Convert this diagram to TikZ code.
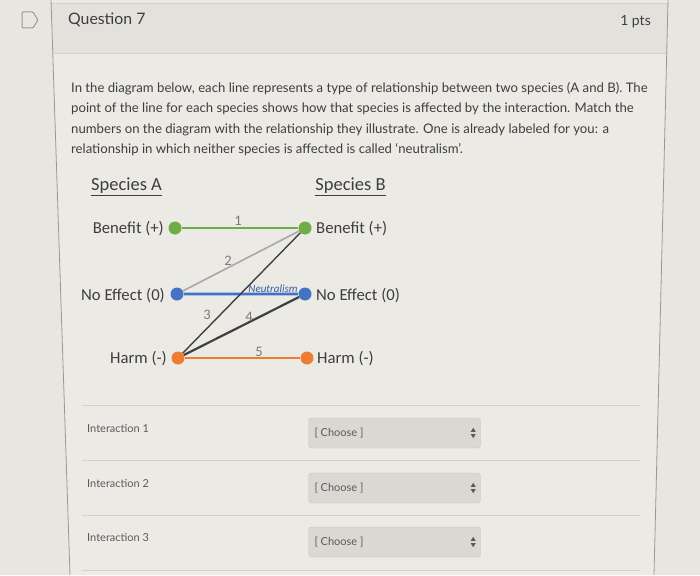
\documentclass[tikz,border=0pt]{standalone}
\usepackage{fontspec}
\setmainfont{Lato}
\newfontfamily\calibri{Carlito}
\definecolor{pagebg}{HTML}{E8E6E1}
\definecolor{cardbg}{HTML}{ECEAE5}
\definecolor{headbg}{HTML}{E3E1DC}
\definecolor{rulegrey}{HTML}{D2D0CB}
\definecolor{edgegrey}{HTML}{9A9893}
\definecolor{txtgrey}{HTML}{3E3E3E}
\definecolor{softgrey}{HTML}{5A5A5A}
\definecolor{numgrey}{HTML}{7A7A7A}
\definecolor{bengreen}{HTML}{70AD47}
\definecolor{neublue}{HTML}{4472C4}
\definecolor{harmorange}{HTML}{ED7D31}
\definecolor{linegrey}{HTML}{A8A8A8}
\definecolor{linedark}{HTML}{404040}
\definecolor{boxfill}{HTML}{DAD8D3}
\definecolor{boxedge}{HTML}{C6C4BF}
\begin{document}
\begin{tikzpicture}[x=1pt,y=-1pt,
    lbl/.style={font=\calibri\fontsize{16.7}{19}\selectfont, text=txtgrey, inner sep=0pt},
    dot/.style={circle, inner sep=0pt, minimum size=13pt},
    num/.style={font=\calibri\fontsize{14.5}{16}\selectfont, text=numgrey, inner sep=0pt},
    rowlbl/.style={font=\fontsize{11}{13}\selectfont, text=softgrey, inner sep=0pt, anchor=west},
    choosebox/.style={draw=boxedge, fill=boxfill, rounded corners=3pt, minimum width=172pt,
      minimum height=30pt, inner sep=0pt},
    choosetxt/.style={font=\fontsize{11}{13}\selectfont, text=softgrey, inner sep=0pt, anchor=west}]
  \useasboundingbox (0,0) rectangle (700,575);
  \fill[pagebg] (0,0) rectangle (700,575);
  % card and header
  \fill[cardbg] (51,0) -- (668,0) -- (654,575) -- (70,575) -- cycle;
  \fill[headbg] (51,3) -- (668,3) -- (667.5,54) -- (52.7,54) -- cycle;
  \draw[rulegrey, line width=0.8pt] (51,3) -- (668,3);
  \draw[rulegrey, line width=1pt] (52.7,54) -- (667.5,54);
  \draw[edgegrey, line width=0.8pt] (51,0) -- (70,575);
  \draw[edgegrey, line width=0.8pt] (668,0) -- (654,575);
  \draw[edgegrey, line width=1pt, rounded corners=1pt]
    (22,12) -- (33,12) -- (38,20) -- (33,28) -- (22,28) -- cycle;
  \node[anchor=west, inner sep=0pt, text=txtgrey, font=\fontsize{15.8}{19}\selectfont] (qtitle) at (68,20) {Question 7};
  \node[anchor=east, inner sep=0pt, text=txtgrey, font=\fontsize{14}{17}\selectfont] (qpts) at (651,22) {1 pts};
  % question text
  \node[anchor=north west, inner sep=0pt, align=left, text=txtgrey,
    font=\fontsize{13.15}{20.5}\selectfont] (intro) at (71,82)
    {In the diagram below, each line represents a type of relationship between two species (A and B). The\\
     point of the line for each species shows how that species is affected by the interaction. Match the\\
     numbers on the diagram with the relationship they illustrate. One is already labeled for you: a\\
     relationship in which neither species is affected is called `neutralism'.};
  % diagram
  \node[lbl, font=\calibri\fontsize{18.5}{21}\selectfont] (spa) at (126.5,187) {\underline{Species A}};
  \node[lbl, font=\calibri\fontsize{18.5}{21}\selectfont] (spb) at (350.5,187) {\underline{Species B}};
  \node[dot, fill=bengreen] (aben) at (175,228) {};
  \node[dot, fill=neublue] (aneu) at (177,294) {};
  \node[dot, fill=harmorange] (aharm) at (178,358) {};
  \node[dot, fill=bengreen] (bben) at (305,228) {};
  \node[dot, fill=neublue] (bneu) at (305,294) {};
  \node[dot, fill=harmorange] (bharm) at (307,358) {};
  \node[lbl, anchor=east] (labena) at (164,229) {Benefit (+)};
  \node[lbl, anchor=east] (laneua) at (165,296) {No Effect (0)};
  \node[lbl, anchor=east] (laharma) at (167,359) {Harm (-)};
  \node[lbl, anchor=west] (labenb) at (316,229) {Benefit (+)};
  \node[lbl, anchor=west] (laneub) at (316,296) {No Effect (0)};
  \node[lbl, anchor=west] (laharmb) at (317,359) {Harm (-)};
  \begin{scope}[-]
    \draw[bengreen, line width=2pt] (aben) to (bben);
    \draw[linegrey, line width=1.6pt] (aneu) to (bben);
    \draw[neublue!45, line width=3.4pt] (aneu) to (bneu);
    \draw[neublue, line width=1.8pt] (aneu) to (bneu);
    \draw[linedark, line width=1.4pt] (aharm) to (bben);
    \draw[linedark, line width=2.2pt] (aharm) to (bneu);
    \draw[harmorange, line width=2pt] (aharm) to (bharm);
  \end{scope}
  \node[num] (n1) at (238,221) {1};
  \node[num] (n2) at (228,261) {2};
  \node[num] (n3) at (207,315) {3};
  \node[num] (n4) at (249,317) {4};
  \node[num] (n5) at (259,352) {5};
  \node[inner sep=0pt, text=neublue!80!black, font=\calibri\itshape\fontsize{11}{12}\selectfont] (neut) at (273,289) {Neutralism};
  % answer rows
  \foreach \ya in {405,460,515,570}
    \draw[rulegrey, line width=0.9pt] (82,\ya) -- (640,\ya);
  \foreach \n/\yb in {1/429, 2/484, 3/538} {
    \node[rowlbl] (row\n) at (87,\yb) {Interaction \n};
    \node[choosebox] (pick\n) at (394.5,\yb+4) {};
    \node[choosetxt] (picktxt\n) at ([xshift=6pt]pick\n.west) {[ Choose ]};
    \fill[softgrey] ([xshift=-10pt,yshift=1.2pt]pick\n.east) -- ++(5,0) -- ++(-2.5,-4) -- cycle;
    \fill[softgrey] ([xshift=-10pt,yshift=-1.2pt]pick\n.east) -- ++(5,0) -- ++(-2.5,4) -- cycle;
  }
\end{tikzpicture}
\end{document}
